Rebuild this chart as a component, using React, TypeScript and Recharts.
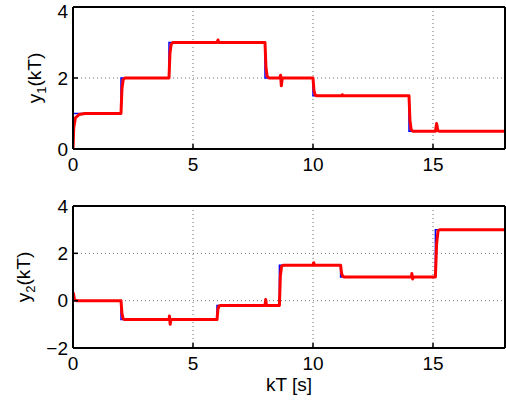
import { LineChart, Line, XAxis, YAxis, CartesianGrid } from 'recharts'

interface Pt {
  t: number
  y: number
}

const xTicks = [0, 5, 10, 15]
const y1Ticks = [0, 2, 4]
const y2Ticks = [-2, 0, 2, 4]

// reference (blue) for y1
const y1Ref: Pt[] = [
  { t: 0, y: 0 }, { t: 0, y: 1 }, { t: 2, y: 1 }, { t: 2, y: 2 },
  { t: 4, y: 2 }, { t: 4, y: 3 }, { t: 8, y: 3 }, { t: 8, y: 2 },
  { t: 10, y: 2 }, { t: 10, y: 1.5 }, { t: 14, y: 1.5 }, { t: 14, y: 0.5 },
  { t: 18, y: 0.5 },
]

// output (red) for y1
const y1Out: Pt[] = [
  { t: 0, y: 0 }, { t: 0.03, y: 0.6 }, { t: 0.1, y: 0.88 }, { t: 0.25, y: 0.97 }, { t: 0.5, y: 1 },
  { t: 2, y: 1 }, { t: 2.04, y: 1.7 }, { t: 2.09, y: 1.95 }, { t: 2.16, y: 2 },
  { t: 4, y: 2 }, { t: 4.04, y: 2.7 }, { t: 4.09, y: 2.95 }, { t: 4.16, y: 3 },
  { t: 6, y: 3 }, { t: 6.04, y: 3.07 }, { t: 6.08, y: 3 },
  { t: 8, y: 3 }, { t: 8.04, y: 2.3 }, { t: 8.09, y: 2.05 }, { t: 8.16, y: 2 },
  { t: 8.62, y: 2 }, { t: 8.65, y: 2.08 }, { t: 8.68, y: 1.78 }, { t: 8.72, y: 2 },
  { t: 10, y: 2 }, { t: 10.04, y: 1.65 }, { t: 10.09, y: 1.52 }, { t: 10.16, y: 1.5 },
  { t: 11.2, y: 1.5 }, { t: 11.22, y: 1.53 }, { t: 11.25, y: 1.5 },
  { t: 14, y: 1.5 }, { t: 14.04, y: 0.8 }, { t: 14.09, y: 0.55 }, { t: 14.16, y: 0.5 },
  { t: 15.1, y: 0.5 }, { t: 15.15, y: 0.72 }, { t: 15.2, y: 0.52 }, { t: 15.26, y: 0.5 },
  { t: 18, y: 0.5 },
]

// reference (blue) for y2
const y2Ref: Pt[] = [
  { t: 0, y: 0 }, { t: 2, y: 0 }, { t: 2, y: -0.8 }, { t: 6, y: -0.8 },
  { t: 6, y: -0.2 }, { t: 8.6, y: -0.2 }, { t: 8.6, y: 1.5 }, { t: 11.15, y: 1.5 },
  { t: 11.15, y: 1 }, { t: 15.1, y: 1 }, { t: 15.1, y: 3 }, { t: 18, y: 3 },
]

// output (red) for y2
const y2Out: Pt[] = [
  { t: 0, y: 0 }, { t: 0.02, y: 0.3 }, { t: 0.06, y: 0.05 }, { t: 0.15, y: 0 },
  { t: 2, y: 0 }, { t: 2.04, y: -0.55 }, { t: 2.09, y: -0.76 }, { t: 2.16, y: -0.8 },
  { t: 4, y: -0.8 }, { t: 4.02, y: -0.65 }, { t: 4.05, y: -1 }, { t: 4.08, y: -0.8 },
  { t: 6, y: -0.8 }, { t: 6.04, y: -0.35 }, { t: 6.09, y: -0.22 }, { t: 6.16, y: -0.2 },
  { t: 8, y: -0.2 }, { t: 8.03, y: 0.05 }, { t: 8.06, y: -0.2 },
  { t: 8.6, y: -0.2 }, { t: 8.64, y: 1.05 }, { t: 8.69, y: 1.45 }, { t: 8.76, y: 1.5 },
  { t: 10, y: 1.5 }, { t: 10.03, y: 1.6 }, { t: 10.06, y: 1.5 },
  { t: 11.15, y: 1.5 }, { t: 11.19, y: 1.15 }, { t: 11.24, y: 1.03 }, { t: 11.31, y: 1 },
  { t: 14.1, y: 1 }, { t: 14.12, y: 1.15 }, { t: 14.15, y: 0.92 }, { t: 14.18, y: 1 },
  { t: 15.1, y: 1 }, { t: 15.15, y: 2.4 }, { t: 15.21, y: 2.95 }, { t: 15.28, y: 3 },
  { t: 18, y: 3 },
]

const FONT = 19
const frame = { stroke: '#000', strokeWidth: 2 }
const tickLine = { stroke: '#000', strokeWidth: 1.5 }
const tickStyle = { fill: '#000', fontSize: FONT }
const fmt = (v: number) => String(v).replace('-', '\u2212')

function YLabel({ x, y, sub }: { x: number; y: number; sub: string }) {
  return (
    <text
      x={x}
      y={y}
      transform={`rotate(-90, ${x}, ${y})`}
      textAnchor="middle"
      fontSize={FONT}
      fill="#000"
    >
      <tspan>y</tspan>
      <tspan fontSize={13} dy={5}>{sub}</tspan>
      <tspan dy={-5}>(kT)</tspan>
    </text>
  )
}

function Panel({
  top, height, marginTop, marginBottom, yTicks, yDomain, refData, outData, labelX, sub, xLabel,
}: {
  top: number
  height: number
  marginTop: number
  marginBottom: number
  yTicks: number[]
  yDomain: [number, number]
  refData: Pt[]
  outData: Pt[]
  labelX: number
  sub: string
  xLabel?: boolean
}) {
  return (
    <div style={{ position: 'absolute', left: 0, top }}>
      <LineChart
        width={506}
        height={height}
        margin={{ top: marginTop - 1, right: 0, left: 0, bottom: marginBottom - 30 }}
      >
        <CartesianGrid
          xAxisId={0}
          yAxisId={0}
          stroke="#6e6e6e"
          strokeDasharray="1 3"
          strokeWidth={1}
        />
        <XAxis
          dataKey="t"
          type="number"
          domain={[0, 18]}
          ticks={xTicks}
          allowDataOverflow
          height={30}
          axisLine={frame}
          tickLine={tickLine}
          tickSize={-5}
          tickMargin={14}
          tick={tickStyle}
          label={
            xLabel
              ? (p: any) => (
                  <text
                    x={p.viewBox.x + p.viewBox.width / 2}
                    y={p.viewBox.y + 43}
                    textAnchor="middle"
                    fontSize={FONT}
                    fill="#000"
                  >
                    kT [s]
                  </text>
                )
              : undefined
          }
        />
        <XAxis
          xAxisId="top"
          orientation="top"
          type="number"
          domain={[0, 18]}
          ticks={xTicks}
          height={1}
          axisLine={frame}
          tickLine={tickLine}
          tickSize={-5}
          tick={false}
        />
        <YAxis
          type="number"
          domain={yDomain}
          ticks={yTicks}
          allowDataOverflow
          width={73}
          axisLine={frame}
          tickLine={tickLine}
          tickSize={-5}
          tickMargin={10}
          tick={tickStyle}
          tickFormatter={fmt}
          label={(p: any) => (
            <YLabel x={labelX} y={p.viewBox.y + p.viewBox.height / 2} sub={sub} />
          )}
        />
        <YAxis
          yAxisId="right"
          orientation="right"
          type="number"
          domain={yDomain}
          ticks={yTicks}
          width={1}
          axisLine={frame}
          tickLine={tickLine}
          tickSize={-5}
          tick={false}
        />
        <Line
          data={refData}
          dataKey="y"
          type="linear"
          stroke="#0000ff"
          strokeWidth={1.5}
          dot={false}
          isAnimationActive={false}
        />
        <Line
          data={outData}
          dataKey="y"
          type="linear"
          stroke="#ff0000"
          strokeWidth={3}
          strokeLinejoin="round"
          dot={false}
          isAnimationActive={false}
        />
      </LineChart>
    </div>
  )
}

export default function App() {
  return (
    <div
      style={{
        position: 'absolute',
        left: 0,
        top: 0,
        width: 506,
        height: 403,
        background: '#fff',
        fontFamily: '"Liberation Sans", Arial, sans-serif',
      }}
    >
      <Panel
        top={0}
        height={180}
        marginTop={7}
        marginBottom={31}
        yTicks={y1Ticks}
        yDomain={[0, 4]}
        refData={y1Ref}
        outData={y1Out}
        labelX={41}
        sub="1"
      />
      <Panel
        top={190}
        height={213}
        marginTop={16}
        marginBottom={55}
        yTicks={y2Ticks}
        yDomain={[-2, 4]}
        refData={y2Ref}
        outData={y2Out}
        labelX={30}
        sub="2"
        xLabel
      />
    </div>
  )
}
